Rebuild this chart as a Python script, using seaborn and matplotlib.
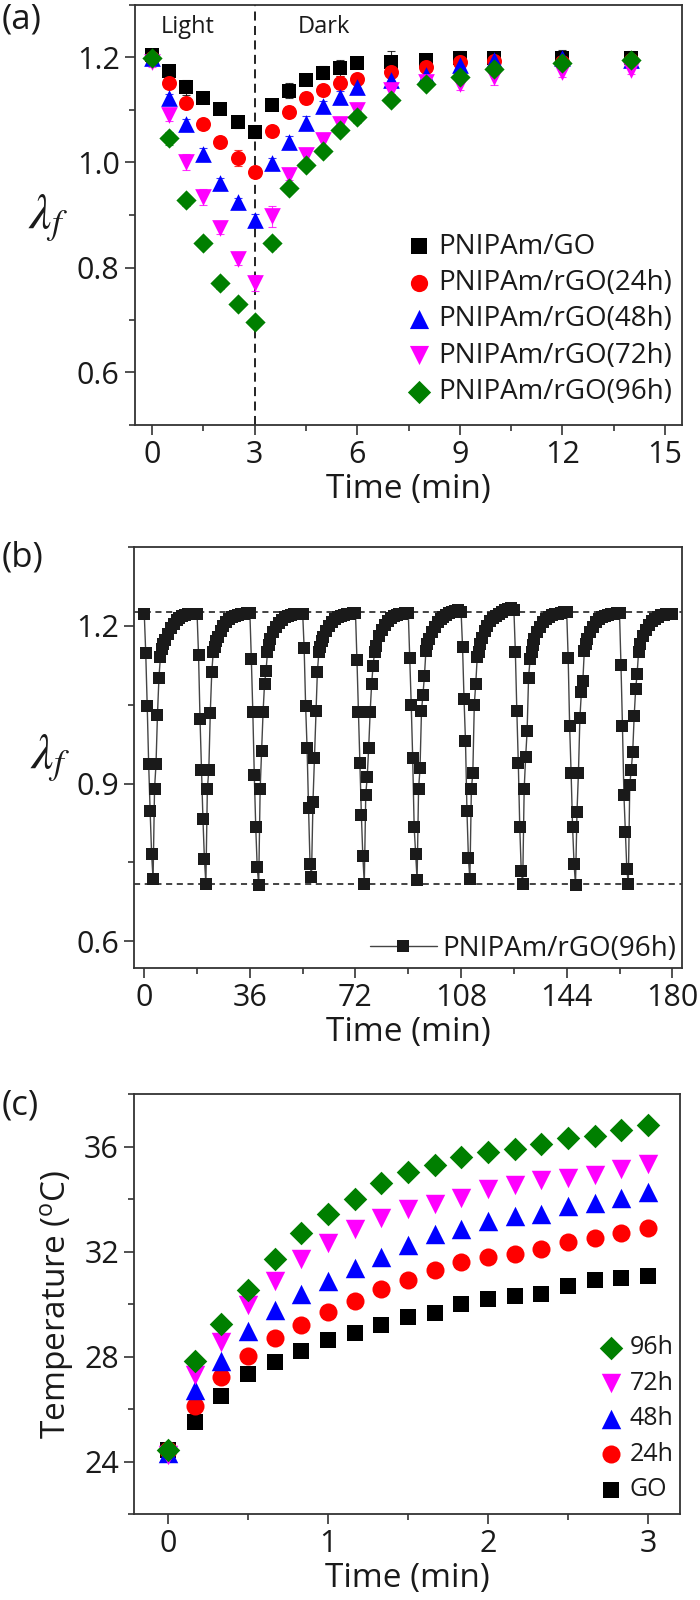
import matplotlib
matplotlib.use("Agg")
import matplotlib.pyplot as plt
import seaborn as sns
import pandas as pd
from matplotlib.ticker import MultipleLocator

# ---------------- Panel (a) data ----------------
time_a = [0, 0.5, 1, 1.5, 2, 2.5, 3, 3.5, 4, 4.5, 5, 5.5, 6, 7, 8, 9, 10, 12, 14]
lam_go = [1.204, 1.175, 1.143, 1.123, 1.102, 1.077, 1.058, 1.110, 1.137, 1.158,
          1.171, 1.180, 1.190, 1.192, 1.196, 1.200, 1.200, 1.200, 1.200]
lam_24 = [1.200, 1.152, 1.114, 1.073, 1.039, 1.008, 0.982, 1.060, 1.097, 1.123,
          1.138, 1.152, 1.159, 1.173, 1.182, 1.192, 1.193, 1.192, 1.196]
lam_48 = [1.200, 1.122, 1.073, 1.016, 0.961, 0.925, 0.891, 0.999, 1.039, 1.076,
          1.107, 1.125, 1.143, 1.157, 1.166, 1.185, 1.195, 1.200, 1.196]
lam_72 = [1.192, 1.090, 1.001, 0.935, 0.876, 0.817, 0.770, 0.898, 0.976, 1.014,
          1.043, 1.074, 1.100, 1.138, 1.154, 1.150, 1.162, 1.173, 1.176]
lam_96 = [1.200, 1.046, 0.928, 0.847, 0.770, 0.731, 0.697, 0.846, 0.952, 0.995,
          1.022, 1.062, 1.087, 1.120, 1.150, 1.162, 1.178, 1.189, 1.196]
err_go = [0.010, 0.008, 0.015, 0.010, 0.006, 0.012, 0.012, 0.006, 0.015, 0.010,
          0.012, 0.015, 0.010, 0.020, 0.008, 0.012, 0.010, 0.015, 0.012]
err_24 = [0.008, 0.006, 0.008, 0.006, 0.008, 0.015, 0.010, 0.006, 0.010, 0.012,
          0.010, 0.012, 0.010, 0.010, 0.008, 0.010, 0.008, 0.010, 0.008]
err_48 = [0.012, 0.008, 0.010, 0.012, 0.010, 0.008, 0.010, 0.010, 0.012, 0.012,
          0.010, 0.012, 0.008, 0.010, 0.012, 0.012, 0.010, 0.010, 0.010]
err_72 = [0.010, 0.010, 0.015, 0.015, 0.012, 0.012, 0.015, 0.020, 0.010, 0.012,
          0.012, 0.010, 0.010, 0.012, 0.012, 0.012, 0.015, 0.010, 0.008]
err_96 = [0.008, 0.012, 0.010, 0.010, 0.010, 0.008, 0.008, 0.010, 0.008, 0.010,
          0.008, 0.010, 0.012, 0.010, 0.010, 0.008, 0.010, 0.008, 0.008]
labels_a = ["PNIPAm/GO", "PNIPAm/rGO(24h)", "PNIPAm/rGO(48h)",
            "PNIPAm/rGO(72h)", "PNIPAm/rGO(96h)"]

# ---------------- Panel (b) data ----------------
cycle_start = [0, 18, 36, 54, 72, 90, 108, 126, 144, 162]
t_light = [0, 0.5, 1, 1.5, 2, 2.5, 3]
t_dark = [3.5, 4, 4.5, 5, 5.5, 6, 6.5, 7, 8, 9, 10, 11, 12, 13, 14, 15, 16, 17]
light_vals = [
    [1.222, 1.148, 1.048, 0.937, 0.847, 0.766, 0.718],
    [1.222, 1.144, 1.023, 0.925, 0.833, 0.756, 0.710],
    [1.224, 1.136, 1.036, 0.917, 0.817, 0.741, 0.708],
    [1.223, 1.157, 1.048, 0.967, 0.853, 0.748, 0.723],
    [1.224, 1.135, 1.036, 0.939, 0.841, 0.762, 0.710],
    [1.224, 1.139, 1.050, 0.948, 0.817, 0.766, 0.717],
    [1.226, 1.159, 1.060, 0.980, 0.847, 0.758, 0.718],
    [1.230, 1.149, 1.038, 0.939, 0.817, 0.734, 0.710],
    [1.225, 1.139, 1.009, 0.920, 0.818, 0.748, 0.708],
    [1.224, 1.125, 1.010, 0.879, 0.807, 0.737, 0.710],
]
dark_vals = [
    [0.890, 0.937, 1.031, 1.101, 1.140, 1.155, 1.165, 1.172, 1.185, 1.195, 1.203, 1.210, 1.215, 1.219, 1.221, 1.222, 1.223, 1.223],
    [0.889, 0.926, 1.034, 1.111, 1.149, 1.160, 1.170, 1.178, 1.190, 1.199, 1.206, 1.212, 1.216, 1.219, 1.221, 1.222, 1.223, 1.224],
    [0.889, 0.961, 1.036, 1.090, 1.114, 1.149, 1.163, 1.174, 1.187, 1.197, 1.205, 1.211, 1.216, 1.219, 1.221, 1.222, 1.223, 1.223],
    [0.864, 0.948, 1.038, 1.111, 1.149, 1.160, 1.170, 1.178, 1.190, 1.199, 1.206, 1.212, 1.216, 1.219, 1.221, 1.222, 1.223, 1.224],
    [0.879, 0.913, 0.968, 1.036, 1.089, 1.124, 1.150, 1.162, 1.180, 1.192, 1.201, 1.208, 1.214, 1.218, 1.221, 1.222, 1.223, 1.224],
    [0.889, 0.929, 1.038, 1.069, 1.104, 1.152, 1.165, 1.175, 1.188, 1.198, 1.206, 1.212, 1.217, 1.221, 1.224, 1.226, 1.228, 1.229],
    [0.889, 0.920, 1.050, 1.090, 1.140, 1.149, 1.165, 1.176, 1.190, 1.200, 1.208, 1.214, 1.219, 1.223, 1.226, 1.229, 1.232, 1.234],
    [0.889, 0.950, 0.999, 1.101, 1.136, 1.150, 1.163, 1.174, 1.187, 1.198, 1.206, 1.212, 1.216, 1.220, 1.222, 1.223, 1.224, 1.225],
    [0.845, 0.920, 1.025, 1.073, 1.095, 1.152, 1.165, 1.175, 1.188, 1.198, 1.206, 1.212, 1.216, 1.219, 1.221, 1.222, 1.223, 1.224],
    [0.898, 0.926, 0.960, 1.028, 1.079, 1.108, 1.150, 1.165, 1.180, 1.192, 1.201, 1.208, 1.213, 1.217, 1.220, 1.221, 1.222, 1.222],
]
end_time_b = 180
end_val_b = 1.222
ref_high_b = 1.225
ref_low_b = 0.71
label_b = "PNIPAm/rGO(96h)"

# ---------------- Panel (c) data ----------------
time_c = [0, 0.167, 0.333, 0.5, 0.667, 0.833, 1.0, 1.167, 1.333, 1.5,
          1.667, 1.833, 2.0, 2.167, 2.333, 2.5, 2.667, 2.833, 3.0]
temp_go = [24.44, 25.49, 26.51, 27.32, 27.80, 28.22, 28.62, 28.91, 29.19, 29.51,
           29.67, 30.01, 30.20, 30.30, 30.39, 30.68, 30.90, 30.99, 31.06]
temp_24 = [24.44, 26.11, 27.23, 28.01, 28.71, 29.19, 29.70, 30.10, 30.56, 30.90,
           31.28, 31.59, 31.78, 31.91, 32.08, 32.38, 32.51, 32.70, 32.89]
temp_48 = [24.32, 26.72, 27.84, 28.97, 29.76, 30.37, 30.86, 31.38, 31.78, 32.23,
           32.67, 32.84, 33.18, 33.34, 33.43, 33.75, 33.84, 34.04, 34.25]
temp_72 = [24.25, 27.29, 28.56, 29.95, 30.86, 31.72, 32.33, 32.86, 33.28, 33.62,
           33.81, 34.04, 34.38, 34.53, 34.73, 34.80, 34.91, 35.14, 35.33]
temp_96 = [24.44, 27.82, 29.22, 30.54, 31.72, 32.71, 33.41, 34.00, 34.61, 35.01,
           35.30, 35.61, 35.80, 35.90, 36.09, 36.32, 36.41, 36.62, 36.81]
labels_c = ["GO", "24h", "48h", "72h", "96h"]

# ---------------- Style ----------------
sns.set_theme(style="ticks")
plt.rcParams["font.family"] = ["Open Sans", "DejaVu Sans"]
plt.rcParams["mathtext.fontset"] = "custom"
plt.rcParams["mathtext.rm"] = "Open Sans"
plt.rcParams["mathtext.it"] = "Open Sans:italic"

colors = ["#000000", "#ff0000", "#0000ff", "#ff00ff", "#007f00"]
markers = ["s", "o", "^", "v", "D"]
TXT = "#1a1a1a"
SPINE = "#333333"

fig = plt.figure(figsize=(7, 16), dpi=100)
W, H = 700.0, 1600.0
ax_a = fig.add_axes([135 / W, 1 - 425 / H, 547 / W, 420 / H])
ax_b = fig.add_axes([134.3 / W, 1 - 967.7 / H, 547.4 / W, 421 / H])
ax_c = fig.add_axes([134.3 / W, 1 - 1514 / H, 545.7 / W, 420 / H])


def style_axis(ax):
    for sp in ax.spines.values():
        sp.set_visible(True)
        sp.set_color(SPINE)
        sp.set_linewidth(1.3)
    ax.tick_params(axis="both", which="major", direction="out", length=7,
                   width=1.2, color=SPINE, labelsize=22, labelcolor=TXT,
                   top=False, right=False, pad=4)
    ax.tick_params(axis="both", which="minor", direction="out", length=4,
                   width=1.2, color=SPINE, top=False, right=False)
    ax.grid(False)


# ---------------- Panel (a) ----------------
series_a = [lam_go, lam_24, lam_48, lam_72, lam_96]
errs_a = [err_go, err_24, err_48, err_72, err_96]
sizes_a = [9.8, 10.8, 12.0, 12.0, 10.3]
for vals, errs, col, mk, ms, lab in zip(series_a, errs_a, colors, markers, sizes_a, labels_a):
    ax_a.errorbar(time_a, vals, yerr=errs, fmt="none", ecolor=col, elinewidth=0.8,
                  capsize=3, capthick=0.8, alpha=0.8, zorder=2)
    sns.scatterplot(x=time_a, y=vals, marker=mk, color=col, s=ms ** 2,
                    edgecolor=col, linewidth=0, ax=ax_a, label=lab, zorder=3)
ax_a.axvline(3, color="#111111", lw=1.3, ls=(0, (5, 3)), zorder=1)
ax_a.set_xlim(-0.5, 15.5)
ax_a.set_ylim(0.5, 1.3)
ax_a.xaxis.set_major_locator(MultipleLocator(3))
ax_a.xaxis.set_minor_locator(MultipleLocator(1.5))
ax_a.yaxis.set_major_locator(MultipleLocator(0.2))
ax_a.yaxis.set_minor_locator(MultipleLocator(0.1))
ax_a.yaxis.set_major_formatter(matplotlib.ticker.FormatStrFormatter("%.1f"))
style_axis(ax_a)
ax_a.set_xlabel("Time (min)", fontsize=24, color=TXT, labelpad=2)
ax_a.set_ylabel("")
ax_a.text(1.03, 1.258, "Light", fontsize=17, color=TXT, ha="center", va="center")
ax_a.text(5.02, 1.258, "Dark", fontsize=17, color=TXT, ha="center", va="center")
leg = ax_a.legend(loc="lower right", bbox_to_anchor=(0.983, 0.045), frameon=False,
                  fontsize=20, handlelength=0.7, handletextpad=0.35,
                  labelspacing=0.3, borderpad=0, borderaxespad=0, markerscale=1.15)
for t in leg.get_texts():
    t.set_color(TXT)

# ---------------- Panel (b) ----------------
tb, vb = [], []
for start, lv, dv in zip(cycle_start, light_vals, dark_vals):
    tb += [start + t for t in t_light] + [start + t for t in t_dark]
    vb += lv + dv
tb.append(end_time_b)
vb.append(end_val_b)
df_b = pd.DataFrame({"time": tb, "lam": vb})
ax_b.axhline(ref_high_b, color="#111111", lw=1.1, ls=(0, (4, 3)), zorder=1)
ax_b.axhline(ref_low_b, color="#111111", lw=1.1, ls=(0, (4, 3)), zorder=1)
ax_b.errorbar(df_b["time"], df_b["lam"], yerr=0.008, fmt="none", ecolor="#888888",
              elinewidth=0.6, capsize=2, capthick=0.6, zorder=2)
sns.lineplot(data=df_b, x="time", y="lam", ax=ax_b, estimator=None, sort=False,
             color="#444444", lw=1.0, marker="s", markersize=9.0,
             markerfacecolor="k", markeredgecolor="k", markeredgewidth=0,
             label=label_b, zorder=3)
ax_b.set_xlim(-3.4, 183.2)
ax_b.set_ylim(0.55, 1.35)
ax_b.xaxis.set_major_locator(MultipleLocator(36))
ax_b.xaxis.set_minor_locator(MultipleLocator(18))
ax_b.yaxis.set_major_locator(MultipleLocator(0.3))
ax_b.yaxis.set_minor_locator(MultipleLocator(0.15))
ax_b.yaxis.set_major_formatter(matplotlib.ticker.FormatStrFormatter("%.1f"))
style_axis(ax_b)
ax_b.set_xlabel("Time (min)", fontsize=24, color=TXT, labelpad=2)
ax_b.set_ylabel("")
leg = ax_b.legend(loc="lower right", bbox_to_anchor=(0.99, 0.012), frameon=False,
                  fontsize=20, handlelength=2.4, handletextpad=0.2,
                  borderpad=0, borderaxespad=0)
for t in leg.get_texts():
    t.set_color(TXT)

# ---------------- Panel (c) ----------------
series_c = [temp_go, temp_24, temp_48, temp_72, temp_96]
sizes_c = [11.5, 13.0, 14.0, 14.0, 12.0]
for vals, col, mk, ms, lab in zip(series_c, colors, markers, sizes_c, labels_c):
    sns.scatterplot(x=time_c, y=vals, marker=mk, color=col, s=ms ** 2,
                    edgecolor=col, linewidth=0, ax=ax_c, label=lab, zorder=3)
ax_c.set_xlim(-0.21, 3.2)
ax_c.set_ylim(22, 38)
ax_c.xaxis.set_major_locator(MultipleLocator(1))
ax_c.xaxis.set_minor_locator(MultipleLocator(0.5))
ax_c.yaxis.set_major_locator(MultipleLocator(4))
ax_c.yaxis.set_minor_locator(MultipleLocator(2))
style_axis(ax_c)
ax_c.set_xlabel("Time (min)", fontsize=24, color=TXT, labelpad=2)
ax_c.set_ylabel(r"Temperature ($^{\mathrm{o}}$C)", fontsize=24, color=TXT, labelpad=6)
handles, labs = ax_c.get_legend_handles_labels()
leg = ax_c.legend(handles[::-1], labs[::-1], loc="lower right",
                  bbox_to_anchor=(0.988, 0.028), frameon=False, fontsize=18,
                  handlelength=0.8, handletextpad=0.35, labelspacing=0.42,
                  borderpad=0, borderaxespad=0)
for t in leg.get_texts():
    t.set_color(TXT)

# ---------------- Labels outside axes ----------------
fig.text(48 / W, 1 - 218 / H, r"$\lambda_f$", fontsize=36, color=TXT,
         ha="center", va="center", math_fontfamily="stix")
fig.text(50 / W, 1 - 758 / H, r"$\lambda_f$", fontsize=36, color=TXT,
         ha="center", va="center", math_fontfamily="stix")
fig.text(2 / W, 1 - 2 / H, "(a)", fontsize=25, color=TXT, ha="left", va="top")
fig.text(2 / W, 1 - 540 / H, "(b)", fontsize=25, color=TXT, ha="left", va="top")
fig.text(2 / W, 1 - 1089 / H, "(c)", fontsize=25, color=TXT, ha="left", va="top")

fig.savefig("out.png", dpi=100, facecolor="white")
